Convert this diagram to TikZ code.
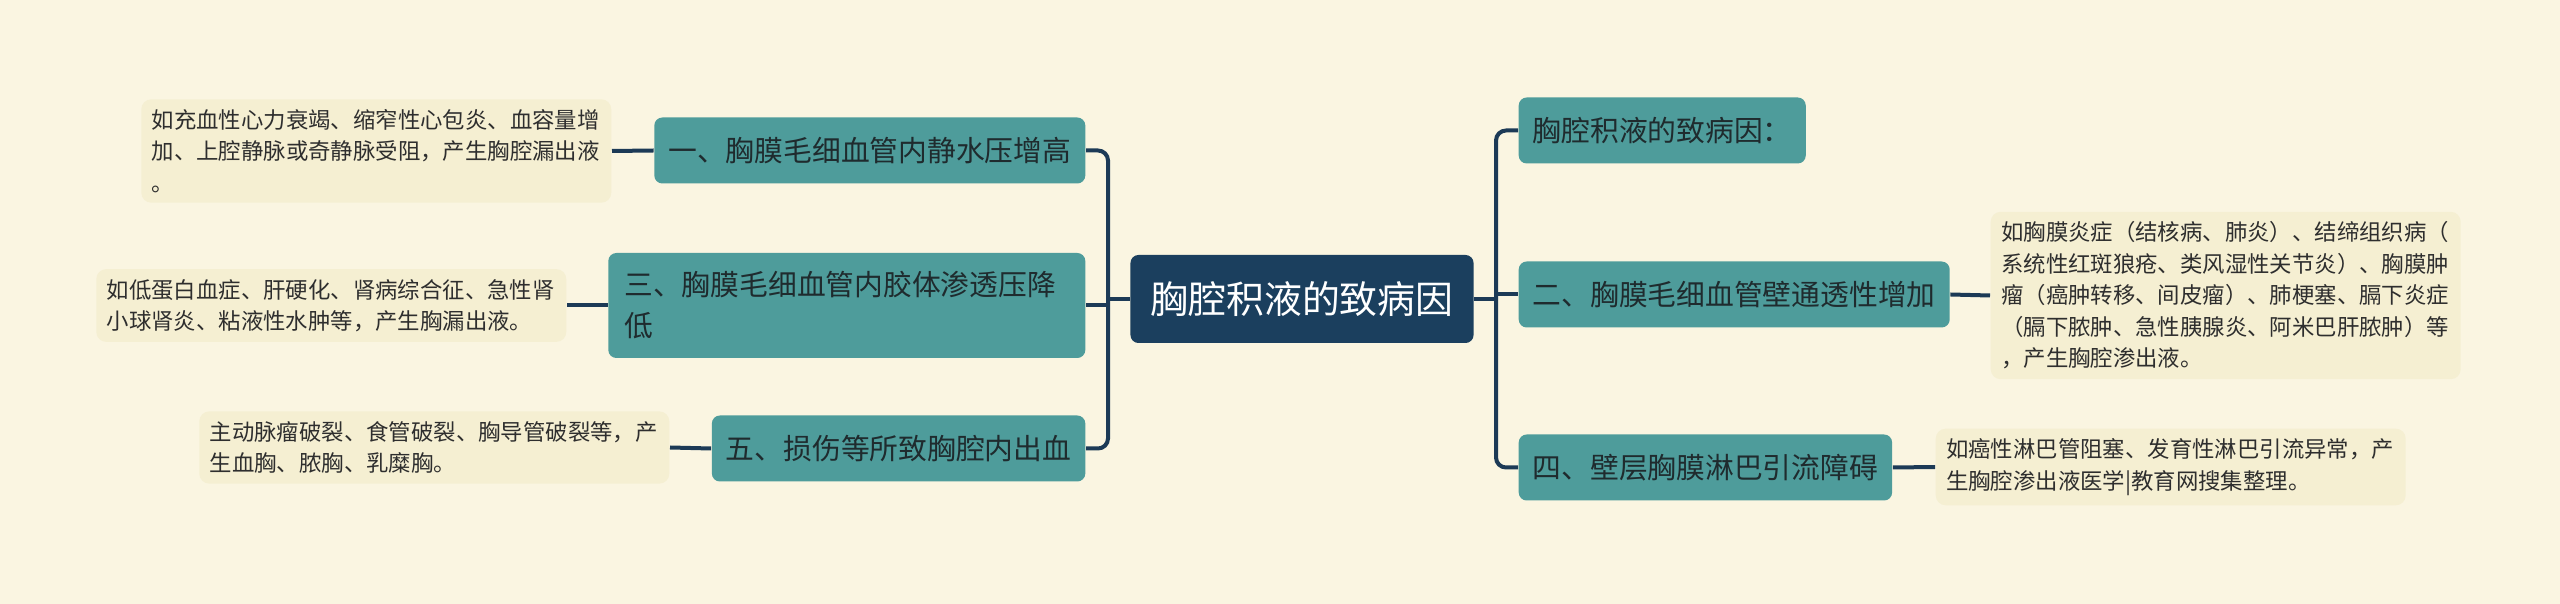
\documentclass[tikz,border=0pt]{standalone}
\usepackage{fontspec}
\newfontfamily\cjk{Noto Sans CJK SC}
\usepackage{xcolor}
\usetikzlibrary{positioning}
\definecolor{bgcream}{HTML}{FAF5E1}
\definecolor{rootblue}{HTML}{1B3F5E}
\definecolor{branchteal}{HTML}{4E9C9B}
\definecolor{branchtext}{HTML}{1F2B2E}
\definecolor{notefill}{HTML}{F5EFD2}
\definecolor{notetext}{HTML}{2E2E2E}
\definecolor{linenavy}{HTML}{1C3A56}

\begin{document}
\begin{tikzpicture}[
      every node/.style={font=\cjk},
      rootbox/.style={fill=rootblue, rounded corners=0.08cm, text=white,
                      minimum height=0.88cm, inner xsep=0.2cm,
                      font=\cjk\fontsize{10.78}{13}\selectfont},
      branchbox/.style={fill=branchteal, rounded corners=0.08cm, text=branchtext,
                        minimum height=0.66cm, inner xsep=0.14cm, align=left,
                        font=\cjk\fontsize{8.19}{11.66}\selectfont},
      notebox/.style={fill=notefill, rounded corners=0.1cm, text=notetext,
                      text width=4.49cm, inner xsep=0.105cm, inner ysep=0.1cm,
                      align=left, font=\cjk\fontsize{6.37}{8.95}\selectfont},
      conn/.style={draw=linenavy, line width=0.04cm, rounded corners=0.1cm},
    ]
    % --- canvas ---
    \fill[bgcream] (0,0) rectangle (25.6,-6.04);
    \useasboundingbox (0,0) rectangle (25.6,-6.04);

    % --- centre ---
    \node[rootbox] (root) at (13.02,-2.99) {胸腔积液的致病因};

    % --- left branches ---
    \node[branchbox, anchor=east] (b1) at (10.86,-1.505) {一、胸膜毛细血管内静水压增高};
    \node[branchbox, anchor=east, text width=4.45cm, minimum height=1.05cm,
          inner xsep=0.16cm] (b3) at (10.86,-3.055) {三、胸膜毛细血管内胶体渗透压降\\低};
    \node[branchbox, anchor=east] (b5) at (10.86,-4.485) {五、损伤等所致胸腔内出血};

    % --- right branches ---
    \node[branchbox, anchor=west] (b0) at (15.18,-1.305) {胸腔积液的致病因：};
    \node[branchbox, anchor=west] (b2) at (15.18,-2.945) {二、胸膜毛细血管壁通透性增加};
    \node[branchbox, anchor=west] (b4) at (15.18,-4.675) {四、壁层胸膜淋巴引流障碍};

    % --- notes ---
    \node[notebox, anchor=east] (n1) at (6.12,-1.51) {
      如充血性心力衰竭、缩窄性心包炎、血容量增\\
      加、上腔静脉或奇静脉受阻，产生胸腔漏出液\\
      。
    };
    \node[notebox, anchor=east] (n3) at (5.67,-3.055) {
      如低蛋白血症、肝硬化、肾病综合征、急性肾\\
      小球肾炎、粘液性水肿等，产生胸漏出液。
    };
    \node[notebox, anchor=east] (n5) at (6.70,-4.475) {
      主动脉瘤破裂、食管破裂、胸导管破裂等，产\\
      生血胸、脓胸、乳糜胸。
    };
    \node[notebox, anchor=west] (n2) at (19.90,-2.955) {
      如胸膜炎症（结核病、肺炎）、结缔组织病（\\
      系统性红斑狼疮、类风湿性关节炎）、胸膜肿\\
      瘤（癌肿转移、间皮瘤）、肺梗塞、膈下炎症\\
      （膈下脓肿、急性胰腺炎、阿米巴肝脓肿）等\\
      ，产生胸腔渗出液。
    };
    \node[notebox, anchor=west] (n4) at (19.35,-4.67) {
      如癌性淋巴管阻塞、发育性淋巴引流异常，产\\
      生胸腔渗出液医学|教育网搜集整理。
    };

    % --- connectors ---
    \coordinate (lj) at (11.08,-2.99);
    \coordinate (rj) at (14.96,-2.99);
    \draw[conn] (root.west) -- (lj);
    \draw[conn] (lj) |- (b1.east);
    \draw[conn] (lj) |- (b5.east);
    \draw[conn] (lj |- b3.east) -- (b3.east);
    \draw[conn] (root.east) -- (rj);
    \draw[conn] (rj) |- (b0.west);
    \draw[conn] (rj) |- (b4.west);
    \draw[conn] (rj |- b2.west) -- (b2.west);

    \draw[conn] (n1.east) -- (b1.west);
    \draw[conn] (n3.east) -- (b3.west);
    \draw[conn] (n5.east) -- (b5.west);
    \draw[conn] (b2.east) -- (n2.west);
    \draw[conn] (b4.east) -- (n4.west);
  \end{tikzpicture}
\end{document}
